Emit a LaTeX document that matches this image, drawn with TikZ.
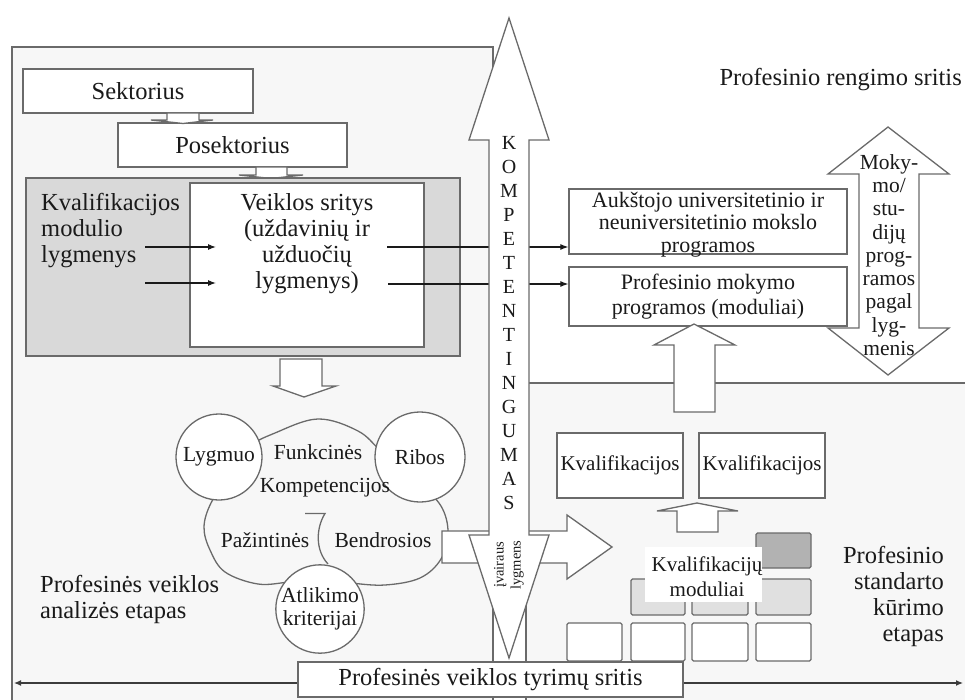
\documentclass[tikz,border=0pt]{standalone}
\usepackage{fontspec}
\setmainfont{Liberation Serif}
\usetikzlibrary{arrows.meta}

\definecolor{edge}{HTML}{6A6A6A}
\definecolor{ink}{HTML}{1A1A1A}
\definecolor{panel}{HTML}{F7F7F7}
\definecolor{shade}{HTML}{D9D9D9}
\definecolor{darkcell}{HTML}{B2B2B2}
\definecolor{lightcell}{HTML}{E0E0E0}

\begin{document}
\begin{tikzpicture}[x=1pt,y=-1pt,
  edgeline/.style={draw=edge, line width=1.3pt},
  box/.style={edgeline, fill=white, inner sep=0pt, text=ink},
  txt/.style={text=ink, inner sep=0pt},
  bigfont/.style={font=\fontsize{24.5}{26}\selectfont},
  boxfont/.style={font=\fontsize{22}{22.5}\selectfont},
  cfont/.style={font=\fontsize{21.5}{23}\selectfont},
  kfont/.style={font=\fontsize{21}{25}\selectfont},
  thinarrow/.style={draw=ink, line width=1.1pt, -{Latex[length=8pt,width=6pt]}},
  blockarrow/.style={edgeline, fill=white, line join=miter},
  cell/.style={edgeline, rounded corners=1.5pt},
]
\useasboundingbox (0,0) rectangle (965,700);
\clip (0,0) rectangle (965,700);

% background panels
\path[edgeline, fill=panel] (12,47) rectangle (493,720);
\path[edgeline, fill=panel] (526,383) rectangle (985,720);

% sector chain
\node[box, bigfont, minimum width=230, minimum height=44] (sek) at (138,91) {Sektorius};
\node[box, bigfont, minimum width=229, minimum height=44] (posek) at (232.5,145) {Posektorius};
\draw[blockarrow] (167,113) -- (199,113) -- (199,120) -- (213,120) -- (183,123.5) -- (151,120) -- (167,120) -- cycle;
\draw[blockarrow] (256,167) -- (287,167) -- (287,175) -- (303,175) -- (271,178.5) -- (239,175) -- (256,175) -- cycle;

% qualification module block
\node[box, fill=shade, minimum width=434, minimum height=178] (modbox) at (243,267) {};
\node[box, minimum width=234, minimum height=164] (veik) at (307,265) {};
\node[txt, bigfont, align=center] (veiktxt) at (307,244) {Veiklos sritys\\(uždavinių ir\\užduočių\\lygmenys)};
\node[txt, bigfont, align=left, anchor=west] (kml) at (41,231) {Kvalifikacijos\\modulio\\lygmenys};
\coordinate (in1) at (145,247); \coordinate (in1e) at (216,247);
\coordinate (in2) at (145,283); \coordinate (in2e) at (216,283);
\draw[thinarrow] (in1) -- (in1e);
\draw[thinarrow] (in2) -- (in2e);

% study programmes
\node[box, minimum width=278, minimum height=65] (auk) at (708,221.5) {};
\node[txt, boxfont, align=center] (auktxt) at (708,224.5) {Aukštojo universitetinio ir\\neuniversitetinio mokslo\\programos};
\node[box, boxfont, align=center, minimum width=278, minimum height=59,
      font=\fontsize{22}{25}\selectfont] (prof) at (708,296.5) {Profesinio mokymo\\programos (moduliai)};

% links from activity areas to programmes
\coordinate (out1) at (387,247);
\coordinate (out2) at (388,284);
\draw[thinarrow] (out1) -- (out1 -| auk.west);
\draw[thinarrow] (out2) -- (out2 -| prof.west);

% double arrow for programme levels
\draw[blockarrow] (888,127) -- (949,174) -- (919,174) -- (919,328) -- (949,328) -- (888,375)
  -- (828,328) -- (859,328) -- (859,174) -- (828,174) -- cycle;
\node[txt, align=center, font=\fontsize{21.5}{23.25}\selectfont] (moky) at (889,255)
  {Moky-\\mo/\\stu-\\dijų\\prog-\\ramos\\pagal\\lyg-\\menis};

% qualifications and upward arrow
\draw[blockarrow] (694,324) -- (735,345) -- (715,345) -- (715,412) -- (674,412) -- (674,345) -- (654,345) -- cycle;
\node[box, kfont, minimum width=126, minimum height=65] (kv1) at (620,465.5) {Kvalifikacijos};
\node[box, kfont, minimum width=126, minimum height=65] (kv2) at (762,465.5) {Kvalifikacijos};
\draw[blockarrow] (677,532) -- (718,532) -- (718,511) -- (738,511) -- (697,503) -- (657,511) -- (677,511) -- cycle;

% module cells
\path[cell, fill=darkcell] (756,533) rectangle (811,568);
\path[cell, fill=lightcell] (631,579) rectangle (685,615);
\path[cell, fill=lightcell] (692,579) rectangle (748,615);
\path[cell, fill=lightcell] (756,579) rectangle (811,615);
\path[cell, fill=white] (567,623) rectangle (622,661);
\path[cell, fill=white] (631,623) rectangle (685,661);
\path[cell, fill=white] (692,623) rectangle (748,661);
\path[cell, fill=white] (756,623) rectangle (811,661);
\path[fill=white] (645,547) rectangle (762,602);
\node[txt, kfont, align=center] (kmod) at (707,576.5) {Kvalifikacijų\\moduliai};

% competence cluster
\draw[edgeline, fill=panel] plot[smooth cycle, tension=0.6] coordinates {
  (248,448) (275,433) (318,419) (358,431) (382,452) (420,485) (441,506) (448,532)
  (441,559) (420,578) (385,585) (350,583) (320,580) (290,582) (258,584) (225,572)
  (210,550) (204,527) (211,503) (228,478)};
\draw[edgeline] (305,513.5) -- (325,513.5) .. controls (316,528) and (315,550) .. (328,564);
\node[box, circle, cfont, minimum size=86] (lyg) at (219,457) {Lygmuo};
\node[box, circle, cfont, minimum size=90] (rib) at (420,457) {Ribos};
\node[box, circle, cfont, align=center, minimum size=88] (atl) at (320,609) {Atlikimo\\kriterijai};
\node[txt, cfont] (fun) at (318,452) {Funkcinės};
\node[txt, cfont] (komp) at (325,488) {Kompetencijos};
\node[txt, cfont] (paz) at (265,540) {Pažintinės};
\node[txt, cfont] (ben) at (383,540) {Bendrosios};

% arrow from the analysis block down to the cluster
\draw[blockarrow] (280,359) -- (322,359) -- (322,386) -- (336,386) -- (304,397) -- (273,386) -- (280,386) -- cycle;

% arrow from the cluster towards the standard
\draw[blockarrow] (442,531) -- (567,531) -- (567,515) -- (612,547) -- (567,579) -- (567,563) -- (442,563) -- cycle;

% central competence arrow
\draw[blockarrow] (509,18) -- (549,140) -- (529,140) -- (529,535) -- (549,535) -- (509,658)
  -- (469,535) -- (489,535) -- (489,140) -- (469,140) -- cycle;
\node[txt, align=center, font=\fontsize{20}{24}\selectfont] (kompet) at (509,323)
  {K\\O\\M\\P\\E\\T\\E\\N\\T\\I\\N\\G\\U\\M\\A\\S};
\node[txt, rotate=90, align=center, font=\fontsize{14.5}{17}\selectfont] (lvl) at (509,565) {įvairaus\\lygmens};

% research field bar
\coordinate (barl) at (14,683);
\coordinate (barr) at (963,683);
\draw[draw=ink!85, line width=1.2pt, {Latex[length=7pt,width=6pt]}-{Latex[length=7pt,width=6pt]}] (barl) -- (barr);
\node[box, bigfont, minimum width=385, minimum height=35] (bar) at (490.5,679.5) {Profesinės veiklos tyrimų sritis};

% area labels
\node[txt, bigfont, anchor=east] (reng) at (962,80) {Profesinio rengimo sritis};
\node[txt, bigfont, align=left, anchor=west] (anal) at (40,599) {Profesinės veiklos\\analizės etapas};
\node[txt, align=right, anchor=east, font=\fontsize{24.5}{26.3}\selectfont] (stand) at (944,596.5)
  {Profesinio\\standarto\\kūrimo\\etapas};
\end{tikzpicture}
\end{document}
